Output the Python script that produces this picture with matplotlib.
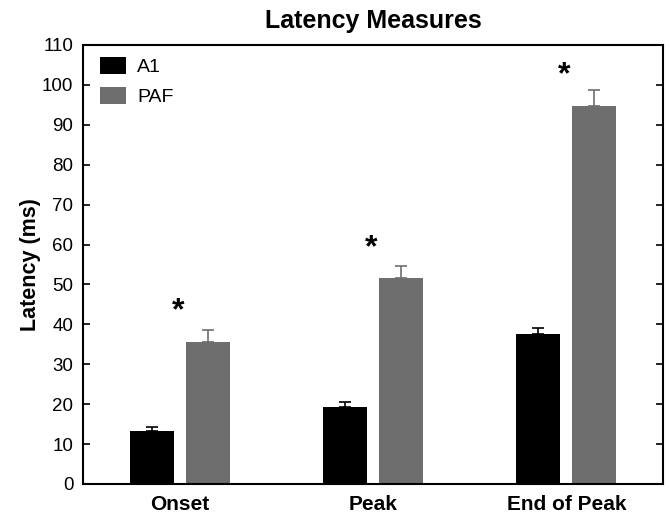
import matplotlib
matplotlib.use("Agg")
import matplotlib.pyplot as plt
import numpy as np

plt.rcParams['font.family'] = ['Liberation Sans', 'DejaVu Sans']

categories = ["Onset", "Peak", "End of Peak"]
a1_mean = [13.3, 19.4, 37.5]
a1_err = [1.0, 1.1, 1.5]
paf_mean = [35.6, 51.5, 94.6]
paf_err = [3.0, 3.1, 4.1]
star_y = [43.4, 59.1, 102.5]
yticks = list(range(0, 111, 10))

black = "#000000"
gray = "#6e6e6e"

fig = plt.figure(figsize=(6.7, 5.14), dpi=100)
ax = fig.add_axes([0.124, 0.0584, 0.8656, 0.8541])

x = np.arange(len(categories))
w = 0.228
off = 0.145

ax.bar(x - off, a1_mean, w, color=black, label="A1", zorder=2)
ax.bar(x + off, paf_mean, w, color=gray, label="PAF", zorder=2)
ax.errorbar(x - off, a1_mean, yerr=[np.zeros(3), a1_err], fmt="none",
            ecolor=black, elinewidth=1.2, capsize=4, capthick=1.2, zorder=1)
ax.errorbar(x + off, paf_mean, yerr=[np.zeros(3), paf_err], fmt="none",
            ecolor=gray, elinewidth=1.2, capsize=4, capthick=1.2, zorder=1)

for xi, yi in zip(x, star_y):
    ax.text(xi - 0.01, yi, "*", ha="center", va="center", fontsize=23,
            fontweight="bold")

ax.set_xlim(-0.5, 2.5)
ax.set_ylim(0, 110)
ax.set_yticks(yticks)
ax.set_xticks(x)
ax.set_xticklabels(categories, fontsize=15, fontweight="bold")
ax.tick_params(axis="y", labelsize=13.5, direction="in", length=5,
               right=True, width=1.2, pad=7)
ax.tick_params(axis="x", length=0, pad=8)
for s in ax.spines.values():
    s.set_linewidth(1.5)

ax.set_ylabel("Latency (ms)", fontsize=15.5, fontweight="bold", labelpad=1)
ax.set_title("Latency Measures", fontsize=18, fontweight="bold", pad=12)

ax.legend(loc="upper left", frameon=False, fontsize=14, handlelength=1.35,
          handleheight=1.0, borderaxespad=0.2, labelspacing=0.55,
          handletextpad=0.55, bbox_to_anchor=(0.009, 1.0))

fig.savefig("out.png", dpi=100)
